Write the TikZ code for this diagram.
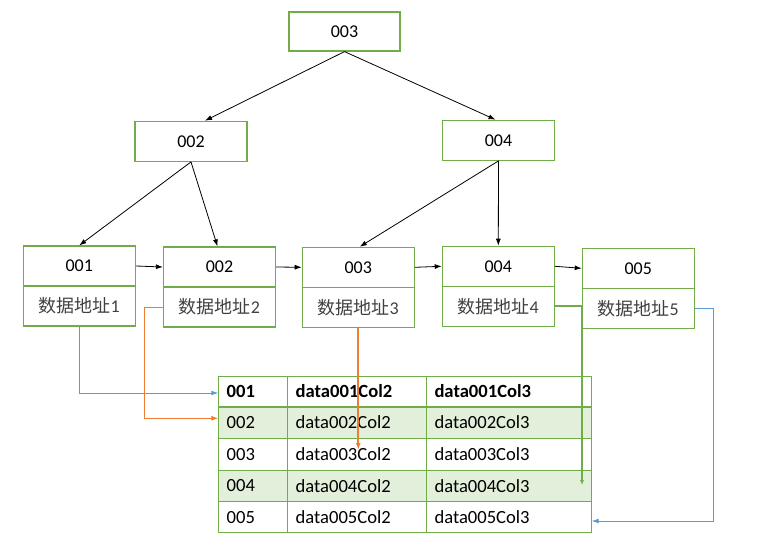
\documentclass[tikz,border=0pt]{standalone}
\usepackage{fontspec}
\setmainfont{Carlito}
\newfontfamily\cjk{Noto Sans CJK SC}
\usetikzlibrary{arrows.meta,calc}
\definecolor{gr}{HTML}{70AD47}
\definecolor{lgr}{HTML}{E2EFDA}
\definecolor{bl}{HTML}{5B9BD5}
\definecolor{org}{HTML}{ED7D31}
\begin{document}
\begin{tikzpicture}[x=1pt,y=-1pt,
  font=\fontsize{18}{21}\selectfont,
  box/.style={draw=gr,line width=1.2pt,minimum width=112pt,minimum height=40pt,inner sep=0pt},
  lowbox/.style={box,text=black!75},
  arr/.style={-{Latex[length=7pt,width=5pt]},line width=0.8pt,black},
  barr/.style={-{Latex[length=7pt,width=5pt]},line width=0.9pt,bl},
  oarr/.style={-{Latex[length=7pt,width=5pt]},line width=0.9pt,org},
  garr/.style={-{Latex[length=5pt,width=4pt]},line width=2.4pt,gr},
  cell/.style={anchor=west,inner sep=0pt,text=black,font=\fontsize{18.6}{21}\selectfont},
  hcell/.style={cell,font=\fontsize{18.6}{21}\selectfont\bfseries},
  tline/.style={draw=gr,line width=1pt}]
\useasboundingbox (0,0) rectangle (761,548);
% tree nodes
\node[box,minimum width=111pt,minimum height=39pt] (r) at (344.5,31.5) {003};
\node[box] (m2) at (191,141.3) {002};
\node[box] (m4) at (498.5,140.3) {004};
% leaves
\node[box] (a1) at (79.3,266) {001};
\node[lowbox] (b1) at (79.3,306) {\cjk 数据地址\rmfamily 1};
\node[box] (a2) at (219.5,267) {002};
\node[lowbox] (b2) at (219.5,307) {\cjk 数据地址\rmfamily 2};
\node[box] (a3) at (358.3,267.3) {003};
\node[lowbox] (b3) at (358.3,307.3) {\cjk 数据地址\rmfamily 3};
\node[box] (a4) at (498.3,266.3) {004};
\node[lowbox] (b4) at (498.3,306.3) {\cjk 数据地址\rmfamily 4};
\node[box] (a5) at (638.3,268.3) {005};
\node[lowbox] (b5) at (638.3,308.3) {\cjk 数据地址\rmfamily 5};
% table
\fill[lgr] (218.3,406.7) rectangle (591.7,438.3);
\fill[lgr] (218.3,470) rectangle (591.7,501.7);
\draw[tline] (218.3,376) rectangle (591.7,532.7);
\foreach \y in {438.3,470,501.7} \draw[tline] (218.3,\y) -- (591.7,\y);
\draw[draw=gr,line width=2pt] (218.3,406.7) -- (591.7,406.7);
\foreach \x in {287.3,426.7} \draw[tline] (\x,376) -- (\x,532.7);
\node[hcell] (k1) at (226.5,391.3) {001};
\node[hcell] (d12) at (295.5,391.3) {data001Col2};
\node[hcell] (d13) at (434.3,391.3) {data001Col3};
\node[cell] (k2) at (226.5,422.5) {002};
\node[cell] (d22) at (295.5,422.5) {data002Col2};
\node[cell] (d23) at (434.3,422.5) {data002Col3};
\node[cell] (k3) at (226.5,454.2) {003};
\node[cell] (d32) at (295.5,454.2) {data003Col2};
\node[cell] (d33) at (434.3,454.2) {data003Col3};
\node[cell] (k4) at (226.5,485.8) {004};
\node[cell] (d42) at (295.5,485.8) {data004Col2};
\node[cell] (d43) at (434.3,485.8) {data004Col3};
\node[cell] (k5) at (226.5,517.2) {005};
\node[cell] (d52) at (295.5,517.2) {data005Col2};
\node[cell] (d53) at (434.3,517.2) {data005Col3};
% target coordinates
\coordinate (t1w) at (218.3,393);
\coordinate (t2w) at (218.3,418.3);
\coordinate (o3) at (358.3,450);
\coordinate (g4) at (582,485);
\coordinate (t5e) at (591.7,521);
\coordinate (bturn) at (713.3,308.3);
% tree arrows
\draw[arr] (r.south) -- ($(m2.north)+(14,0)$);
\draw[arr] (r.south) -- ($(m4.north)+(-3,0)$);
\draw[arr] (m2.south) -- (a1.north);
\draw[arr] (m2.south) -- ($(a2.north)+(-2,0)$);
\draw[arr] (m4.south) -- ($(a3.north)+(1.5,0)$);
\draw[arr] (m4.south) -- (a4.north);
\draw[arr] (a1.east) -- (a2.west);
\draw[arr] (a2.east) -- (a3.west);
\draw[arr] (a3.east) -- (a4.west);
\draw[arr] (a4.east) -- (a5.west);
% pointer arrows
\draw[barr] (b1.south) |- (t1w);
\draw[oarr] (b2.west) -- ++(-18,0) |- (t2w);
\draw[oarr,line width=2pt] (b3.south) -- (o3);
\draw[garr] (b4.east) -| (g4);
\draw[barr] (b5.east) -- (bturn) |- (t5e);
\end{tikzpicture}
\end{document}
